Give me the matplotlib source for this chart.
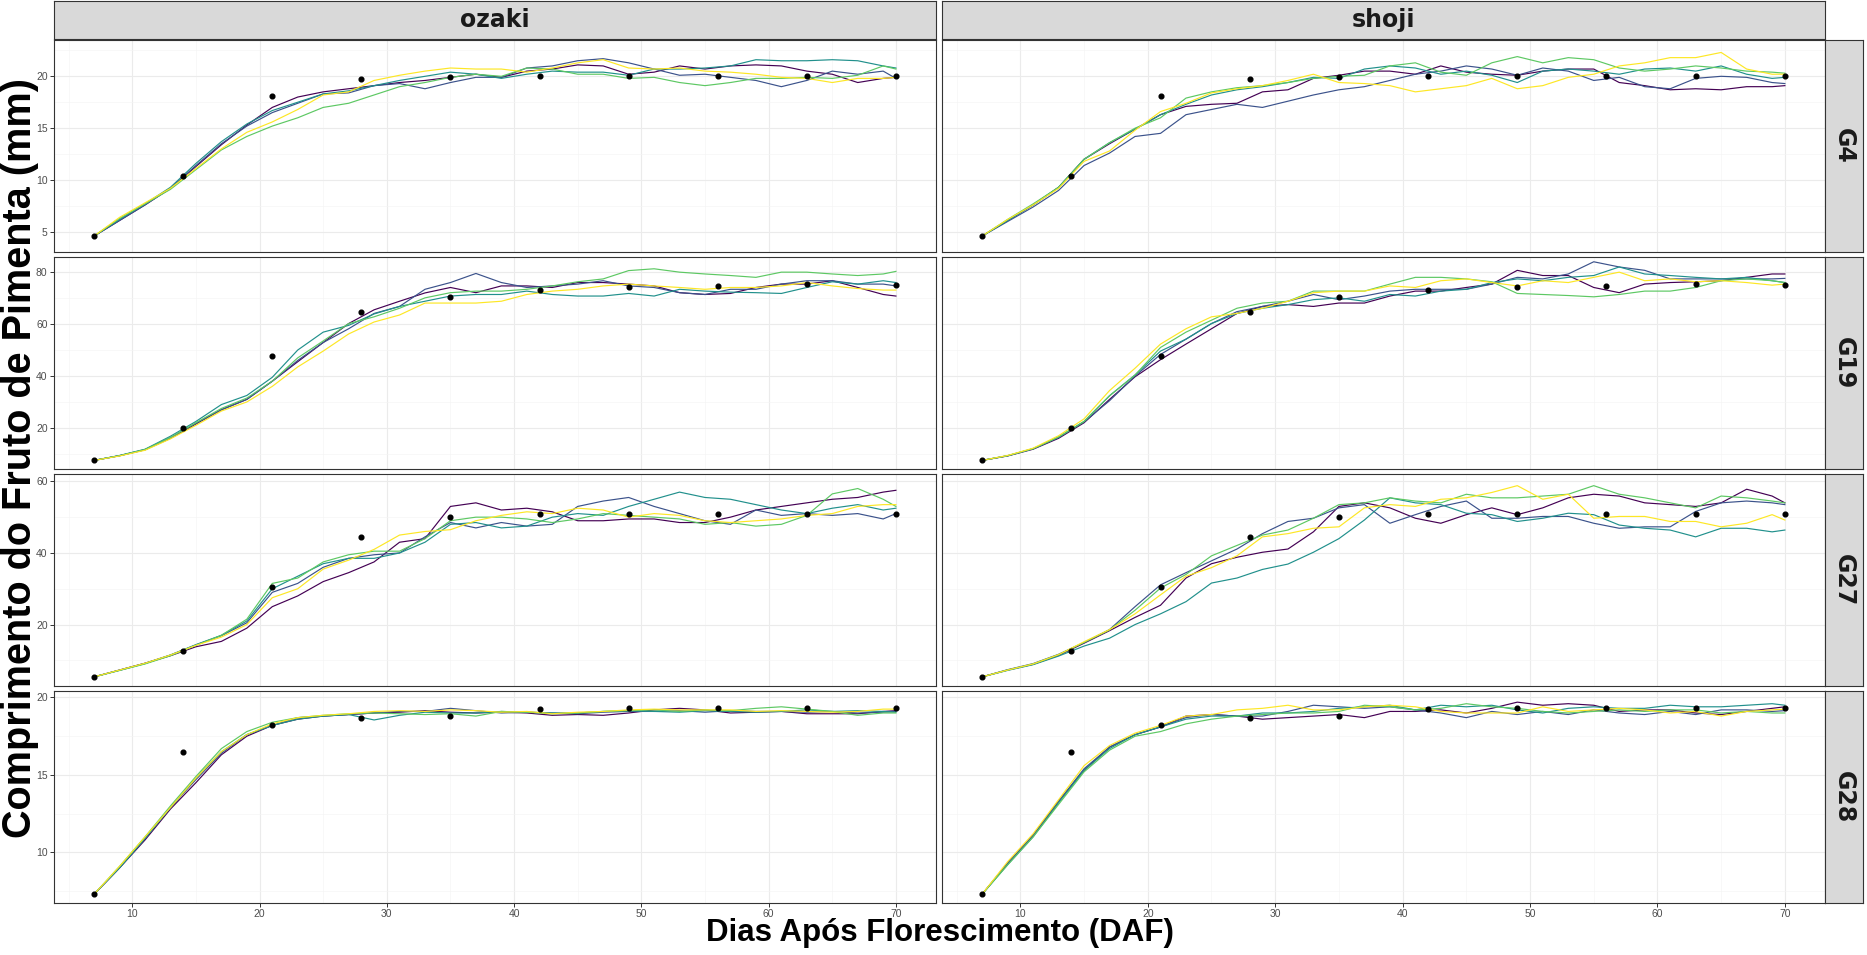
import numpy as np
import matplotlib as mpl
mpl.use('Agg')
import matplotlib.pyplot as plt

# days at which the simulated runs were read off the chart
days = [7, 9, 11, 13, 15, 17, 19, 21, 23, 25, 27, 29, 31, 33, 35, 37, 39, 41, 43, 45,
        47, 49, 51, 53, 55, 57, 59, 61, 63, 65, 67, 69, 70]
obs_days = [7, 14, 21, 28, 35, 42, 49, 56, 63, 70]

# observed means (same in both methods)
obs_g4 = [4.6, 10.4, 18.1, 19.7, 19.9, 20.0, 20.0, 20.0, 20.0, 20.0]
obs_g19 = [7.5, 20.0, 47.8, 64.6, 70.5, 73.0, 74.3, 74.6, 75.3, 75.2]
obs_g27 = [5.4, 12.5, 30.5, 44.5, 50.1, 51.0, 51.0, 51.0, 51.0, 51.0]
obs_g28 = [7.3, 16.5, 18.2, 18.65, 18.8, 19.25, 19.35, 19.35, 19.35, 19.35]

# five runs per panel (run 1..5)
g4_ozaki = [
    [4.6, 6.1, 7.6, 9.2, 11.3, 13.4, 15.3, 17.0, 18.0, 18.5, 18.8, 19.1, 19.4, 19.6, 19.9, 20.2, 19.9, 20.5, 20.7, 21.1, 21.0, 20.2, 20.4, 21.0, 20.7, 21.0, 21.1, 21.0, 20.5, 20.2, 19.4, 19.8, 19.9],
    [4.6, 6.1, 7.6, 9.2, 11.4, 13.5, 15.2, 16.5, 17.4, 18.3, 18.4, 19.1, 19.3, 18.8, 19.4, 19.9, 19.9, 20.8, 21.0, 21.5, 21.7, 21.3, 20.7, 20.1, 20.2, 19.9, 19.6, 19.0, 19.6, 20.5, 20.2, 20.5, 19.8],
    [4.6, 6.2, 7.7, 9.3, 11.6, 13.7, 15.4, 16.7, 17.5, 18.3, 18.6, 19.1, 19.6, 20.0, 20.4, 20.2, 19.8, 20.2, 20.5, 20.4, 20.4, 20.1, 20.7, 20.7, 20.8, 21.0, 21.6, 21.5, 21.5, 21.6, 21.5, 21.0, 20.8],
    [4.6, 6.3, 7.7, 9.1, 11.0, 12.9, 14.2, 15.2, 16.0, 17.0, 17.4, 18.2, 19.0, 19.4, 19.9, 20.2, 20.0, 20.8, 20.7, 20.2, 20.2, 19.8, 19.9, 19.4, 19.1, 19.4, 19.8, 19.8, 19.9, 19.8, 20.1, 21.0, 20.7],
    [4.6, 6.4, 7.8, 9.2, 11.1, 13.0, 14.6, 15.6, 16.8, 18.2, 18.5, 19.6, 20.1, 20.5, 20.8, 20.7, 20.7, 20.4, 20.8, 21.3, 21.6, 20.8, 20.7, 20.8, 20.5, 20.4, 20.2, 19.9, 19.8, 19.4, 19.8, 19.8, 19.9],
]
g4_shoji = [
    [4.6, 6.1, 7.6, 9.3, 12.0, 13.5, 14.9, 16.3, 17.1, 17.3, 17.4, 18.5, 18.7, 19.8, 20.1, 20.5, 20.5, 20.2, 21.0, 20.4, 20.2, 20.1, 20.5, 20.7, 20.7, 19.4, 19.1, 18.7, 18.8, 18.7, 19.0, 19.0, 19.1],
    [4.6, 6.0, 7.4, 9.0, 11.4, 12.6, 14.2, 14.5, 16.3, 16.8, 17.3, 17.0, 17.6, 18.2, 18.7, 19.0, 19.6, 20.2, 20.5, 21.0, 20.7, 20.1, 20.8, 20.5, 19.6, 19.9, 19.0, 18.8, 19.8, 20.0, 19.9, 19.4, 19.3],
    [4.6, 6.1, 7.6, 9.3, 12.0, 13.6, 14.9, 16.3, 17.3, 18.2, 18.7, 19.0, 19.4, 19.9, 19.8, 20.7, 21.0, 20.8, 20.2, 20.5, 20.1, 19.4, 20.5, 20.7, 20.5, 20.2, 20.7, 20.8, 20.5, 21.0, 20.2, 19.8, 19.9],
    [4.6, 6.2, 7.7, 9.3, 12.0, 13.6, 15.0, 16.0, 17.9, 18.5, 18.9, 19.1, 19.4, 19.8, 20.0, 20.1, 21.0, 21.3, 20.4, 20.1, 21.3, 21.9, 21.3, 21.8, 21.6, 20.8, 20.5, 20.7, 21.0, 20.8, 20.5, 20.4, 20.3],
    [4.6, 6.2, 7.6, 9.2, 11.8, 12.8, 14.8, 16.6, 17.4, 18.4, 18.8, 19.1, 19.6, 20.2, 19.4, 19.3, 19.1, 18.5, 18.8, 19.1, 19.8, 18.8, 19.1, 19.9, 20.2, 21.0, 21.3, 21.8, 21.8, 22.3, 20.7, 20.2, 20.2],
]
g19_ozaki = [
    [7.5, 9.3, 11.6, 16.0, 21.5, 27.0, 31.0, 38.0, 45.5, 52.9, 60.2, 65.5, 68.8, 72.0, 74.1, 72.1, 74.7, 74.7, 74.1, 76.0, 76.0, 75.4, 74.7, 72.1, 71.4, 71.8, 74.1, 75.4, 75.4, 76.7, 74.1, 71.4, 70.8],
    [7.5, 9.3, 11.6, 16.2, 21.8, 27.0, 31.0, 38.0, 46.0, 52.9, 58.2, 64.1, 66.8, 73.4, 76.0, 79.5, 76.0, 74.1, 74.7, 75.4, 76.7, 74.7, 74.1, 72.1, 71.4, 73.4, 73.4, 75.4, 76.7, 76.7, 75.4, 75.4, 74.7],
    [7.5, 9.4, 11.8, 16.8, 22.5, 29.0, 32.5, 39.5, 50.0, 56.9, 59.5, 63.9, 66.8, 68.8, 70.8, 71.4, 71.4, 72.7, 71.4, 70.8, 70.8, 71.8, 70.8, 73.4, 72.7, 72.3, 72.1, 71.8, 74.1, 76.3, 75.4, 76.7, 76.0],
    [7.5, 9.3, 11.7, 16.3, 22.0, 27.5, 31.5, 38.0, 47.0, 53.5, 60.2, 62.8, 66.1, 70.1, 72.1, 72.7, 72.7, 73.4, 74.7, 76.3, 77.4, 80.6, 81.3, 80.0, 79.3, 78.7, 78.0, 80.0, 80.0, 79.3, 78.7, 79.3, 80.3],
    [7.5, 9.2, 11.4, 15.8, 21.0, 26.5, 30.0, 36.0, 43.5, 49.6, 56.2, 60.8, 63.5, 68.1, 68.1, 68.1, 68.8, 71.4, 72.7, 73.4, 74.7, 75.4, 74.7, 74.1, 73.4, 74.1, 74.1, 74.7, 76.0, 74.7, 73.7, 73.1, 73.1],
]
g19_shoji = [
    [7.5, 9.2, 11.8, 16.0, 22.0, 31.0, 39.7, 46.3, 52.3, 58.2, 64.1, 66.8, 67.5, 66.8, 68.1, 68.1, 70.8, 72.7, 72.7, 74.1, 75.4, 80.7, 78.7, 78.7, 74.1, 72.1, 75.4, 76.0, 76.3, 76.7, 78.0, 79.3, 79.3],
    [7.5, 9.3, 12.0, 16.3, 22.3, 30.5, 40.0, 48.3, 54.2, 60.2, 64.8, 66.8, 68.8, 71.4, 69.4, 70.8, 72.7, 73.4, 73.4, 73.4, 75.4, 78.0, 77.4, 79.3, 84.0, 82.0, 80.7, 77.4, 77.4, 77.4, 77.4, 77.4, 77.6],
    [7.5, 9.3, 12.0, 16.5, 22.5, 32.4, 40.4, 49.6, 54.2, 60.2, 64.1, 66.1, 67.5, 69.4, 70.1, 68.8, 71.4, 70.8, 72.7, 73.4, 76.0, 77.4, 76.7, 78.0, 78.7, 82.0, 79.3, 78.7, 78.0, 77.4, 78.0, 76.7, 76.0],
    [7.5, 9.3, 12.0, 16.5, 22.5, 32.4, 40.4, 51.0, 56.9, 61.5, 66.1, 68.1, 68.8, 72.7, 72.7, 72.7, 75.4, 78.0, 78.0, 77.4, 76.3, 71.8, 71.4, 71.0, 70.5, 71.4, 72.7, 72.7, 74.1, 76.7, 77.4, 76.7, 76.0],
    [7.5, 9.4, 12.2, 17.0, 23.5, 34.4, 43.0, 52.3, 58.2, 62.8, 64.1, 66.1, 68.8, 72.1, 72.7, 72.7, 74.7, 74.1, 76.7, 77.4, 76.0, 74.7, 76.7, 76.0, 78.0, 80.0, 76.7, 77.4, 76.3, 76.7, 76.0, 75.0, 75.4],
]
g27_ozaki = [
    [5.4, 7.3, 9.2, 11.3, 13.8, 15.3, 19.0, 25.0, 28.0, 32.0, 34.5, 37.5, 43.0, 44.0, 53.0, 54.0, 52.0, 52.5, 51.5, 49.0, 49.0, 49.5, 49.5, 48.5, 48.5, 50.0, 52.0, 53.0, 54.0, 55.0, 55.5, 57.0, 57.5],
    [5.4, 7.3, 9.2, 11.5, 14.3, 16.9, 20.5, 29.0, 31.5, 36.0, 38.5, 39.5, 40.0, 44.5, 48.5, 47.0, 48.5, 47.5, 48.0, 53.0, 54.5, 55.5, 53.0, 51.0, 49.0, 48.0, 52.0, 50.5, 51.0, 50.5, 51.0, 49.5, 51.0],
    [5.4, 7.2, 9.1, 11.5, 14.4, 17.0, 21.0, 30.0, 33.5, 37.0, 38.5, 38.5, 40.0, 43.0, 48.0, 48.5, 47.0, 47.5, 50.0, 51.0, 50.5, 53.0, 55.0, 57.0, 55.5, 55.0, 53.5, 52.0, 51.0, 52.5, 53.5, 52.0, 52.5],
    [5.4, 7.2, 9.0, 11.3, 14.2, 17.0, 21.5, 31.5, 33.0, 37.5, 39.5, 40.5, 40.5, 44.0, 49.0, 50.0, 50.0, 49.5, 48.5, 49.5, 51.0, 50.5, 50.0, 49.5, 48.0, 48.5, 47.5, 48.0, 50.5, 56.5, 58.0, 55.0, 53.0],
    [5.4, 7.3, 9.2, 11.5, 14.2, 16.5, 20.0, 27.5, 30.0, 35.5, 38.0, 41.0, 45.0, 46.0, 46.5, 49.0, 50.5, 51.5, 51.0, 52.5, 52.0, 50.0, 51.0, 50.5, 49.0, 48.5, 49.0, 49.5, 50.5, 51.0, 53.0, 53.5, 53.5],
]
g27_shoji = [
    [5.4, 7.3, 8.9, 11.4, 14.8, 18.3, 22.0, 25.4, 33.0, 37.0, 38.8, 40.2, 41.1, 45.9, 53.0, 54.0, 52.6, 49.7, 48.3, 50.7, 52.6, 50.7, 52.6, 55.4, 56.4, 55.9, 54.0, 53.5, 53.0, 54.0, 57.8, 55.9, 54.0],
    [5.4, 7.4, 9.1, 11.7, 15.0, 18.6, 25.0, 31.1, 34.5, 37.8, 41.1, 45.4, 48.8, 49.7, 52.6, 53.5, 48.3, 50.7, 53.0, 54.5, 49.7, 49.7, 50.2, 50.2, 48.3, 46.9, 47.3, 47.3, 51.6, 54.0, 54.5, 54.0, 53.5],
    [5.4, 7.2, 8.8, 11.2, 14.0, 16.2, 20.0, 23.0, 26.4, 31.6, 33.0, 35.4, 36.9, 40.2, 44.0, 49.2, 55.4, 54.0, 53.5, 51.1, 50.7, 48.8, 49.7, 51.1, 50.7, 47.8, 46.9, 46.4, 44.5, 46.9, 46.9, 45.9, 46.4],
    [5.4, 7.3, 9.0, 11.6, 15.0, 18.5, 24.0, 30.2, 34.0, 39.2, 42.1, 45.0, 46.4, 49.7, 53.5, 54.0, 55.4, 54.5, 54.0, 56.4, 55.4, 55.4, 55.9, 56.4, 58.8, 56.4, 55.4, 54.0, 52.6, 55.9, 55.4, 54.5, 54.0],
    [5.4, 7.3, 9.0, 11.6, 15.2, 18.6, 23.0, 28.3, 33.5, 35.9, 39.2, 44.5, 45.4, 46.9, 47.3, 52.6, 53.5, 53.0, 55.0, 55.4, 56.9, 58.8, 55.0, 56.4, 49.7, 50.2, 50.2, 48.8, 48.8, 47.3, 48.3, 50.7, 49.2],
]
g28_ozaki = [
    [7.3, 9.0, 10.8, 12.8, 14.5, 16.3, 17.5, 18.2, 18.6, 18.8, 18.9, 19.0, 19.05, 19.15, 19.05, 19.0, 19.05, 19.0, 18.85, 18.9, 18.85, 19.0, 19.2, 19.3, 19.2, 19.0, 19.05, 19.1, 18.95, 18.95, 18.95, 19.1, 19.15],
    [7.3, 9.0, 10.9, 12.9, 14.7, 16.4, 17.6, 18.2, 18.7, 18.8, 18.9, 19.0, 19.1, 19.1, 19.3, 19.15, 19.0, 19.05, 19.0, 18.95, 19.05, 19.1, 19.1, 19.15, 19.05, 19.15, 19.1, 19.1, 19.05, 19.1, 19.0, 19.05, 19.1],
    [7.3, 9.0, 10.9, 12.9, 14.8, 16.5, 17.6, 18.2, 18.6, 18.8, 18.9, 18.55, 18.85, 19.05, 19.0, 19.0, 19.1, 19.05, 19.0, 19.0, 19.1, 19.15, 19.1, 19.05, 19.15, 19.1, 19.05, 19.1, 19.2, 19.1, 19.15, 19.1, 19.05],
    [7.3, 9.1, 11.0, 13.0, 14.9, 16.7, 17.8, 18.4, 18.7, 18.85, 18.95, 19.0, 18.95, 18.9, 18.95, 18.8, 19.1, 19.05, 18.95, 19.0, 19.1, 19.15, 19.2, 19.1, 19.2, 19.15, 19.3, 19.4, 19.25, 19.1, 18.85, 19.0, 19.0],
    [7.3, 9.1, 11.0, 12.9, 14.8, 16.5, 17.6, 18.3, 18.7, 18.85, 18.95, 19.1, 19.15, 19.1, 19.2, 19.15, 19.05, 19.1, 18.95, 19.05, 19.1, 19.2, 19.25, 19.2, 19.2, 19.2, 19.1, 19.15, 19.1, 19.05, 19.1, 19.25, 19.25],
]
g28_shoji = [
    [7.3, 9.3, 11.1, 13.3, 15.3, 16.8, 17.6, 18.1, 18.8, 18.9, 18.8, 18.6, 18.7, 18.8, 18.9, 18.7, 19.1, 19.1, 19.2, 19.0, 19.3, 19.7, 19.5, 19.6, 19.5, 19.1, 19.2, 19.2, 19.0, 18.9, 19.1, 19.3, 19.4],
    [7.3, 9.3, 11.1, 13.3, 15.4, 16.8, 17.6, 18.1, 18.7, 18.9, 18.8, 18.8, 19.1, 19.5, 19.4, 19.3, 19.4, 19.2, 19.0, 18.7, 19.1, 18.9, 19.1, 18.9, 19.2, 19.0, 18.9, 19.1, 18.9, 19.2, 19.2, 19.1, 19.15],
    [7.3, 9.2, 11.0, 13.2, 15.3, 16.7, 17.6, 18.1, 18.6, 18.8, 18.8, 19.0, 19.0, 19.1, 19.3, 19.4, 19.5, 19.2, 19.5, 19.4, 19.5, 19.2, 19.0, 19.3, 19.4, 19.3, 19.3, 19.5, 19.4, 19.4, 19.5, 19.6, 19.5],
    [7.3, 9.2, 11.0, 13.1, 15.2, 16.6, 17.5, 17.8, 18.3, 18.6, 18.8, 18.9, 19.0, 19.0, 19.1, 19.5, 19.4, 19.2, 19.3, 19.6, 19.4, 19.3, 19.1, 19.0, 19.1, 19.2, 19.1, 19.2, 19.2, 19.0, 19.1, 19.0, 19.0],
    [7.3, 9.4, 11.2, 13.4, 15.6, 16.9, 17.7, 18.2, 18.8, 18.9, 19.2, 19.3, 19.5, 19.2, 19.2, 19.4, 19.5, 19.4, 19.1, 19.0, 19.0, 19.0, 19.4, 19.1, 19.2, 19.3, 19.2, 19.0, 19.1, 18.8, 19.1, 19.2, 19.25],
]

methods = ['ozaki', 'shoji']
genotypes = ['G4', 'G19', 'G27', 'G28']
runs = {('G4', 'ozaki'): g4_ozaki, ('G4', 'shoji'): g4_shoji,
        ('G19', 'ozaki'): g19_ozaki, ('G19', 'shoji'): g19_shoji,
        ('G27', 'ozaki'): g27_ozaki, ('G27', 'shoji'): g27_shoji,
        ('G28', 'ozaki'): g28_ozaki, ('G28', 'shoji'): g28_shoji}
observed = {'G4': obs_g4, 'G19': obs_g19, 'G27': obs_g27, 'G28': obs_g28}

run_colors = ['#440154', '#3B528B', '#21908C', '#5DC863', '#FDE725']
ylims = {'G4': (3.1, 23.5), 'G19': (4.3, 85.8), 'G27': (2.9, 62.0), 'G28': (6.74, 20.4)}
yticks = {'G4': [5, 10, 15, 20], 'G19': [20, 40, 60, 80], 'G27': [20, 40, 60], 'G28': [10, 15, 20]}

W, H = 1867, 955
fig = plt.figure(figsize=(W / 100, H / 100), dpi=100, facecolor='white')


def box(x0, y0, x1, y1):
    # pixel box (top-left origin) -> figure fraction rect
    return [x0 / W, 1 - y1 / H, (x1 - x0) / W, (y1 - y0) / H]


col_x = [(54, 936), (942, 1825)]
top0, panel_h, gap = 40, 211.6, 5.5
edge = '#333333'
tick_font = {'family': 'Liberation Sans', 'size': 7.5, 'color': '#4D4D4D'}

for r, g in enumerate(genotypes):
    y0 = top0 + r * (panel_h + gap)
    y1 = y0 + panel_h
    lo, hi = ylims[g]
    major = yticks[g]
    step = major[1] - major[0]
    minor = np.arange(major[0] - step / 2, hi, step)
    for c, m in enumerate(methods):
        x0, x1 = col_x[c]
        ax = fig.add_axes(box(x0, y0, x1, y1))
        ax.set_xlim(3.85, 73.15)
        ax.set_ylim(lo, hi)
        ax.set_xticks(range(10, 71, 10))
        ax.set_xticks(range(5, 71, 10), minor=True)
        ax.set_yticks(major)
        ax.set_yticks([v for v in minor if lo < v < hi], minor=True)
        ax.grid(which='major', color='#EBEBEB', linewidth=0.8)
        ax.grid(which='minor', color='#F4F4F4', linewidth=0.45)
        ax.set_axisbelow(True)
        for s in ax.spines.values():
            s.set_color(edge)
            s.set_linewidth(0.8)
        ax.tick_params(which='minor', length=0)
        ax.tick_params(which='major', length=2.6, width=0.7, color=edge, pad=2)
        if c == 0:
            ax.set_yticklabels([str(v) for v in major], fontdict=tick_font)
        else:
            ax.tick_params(axis='y', which='major', length=0, labelleft=False)
        if r == len(genotypes) - 1:
            ax.set_xticklabels([str(v) for v in range(10, 71, 10)], fontdict=tick_font)
        else:
            ax.tick_params(axis='x', which='major', length=0, labelbottom=False)

        for k, run in enumerate(runs[(g, m)]):
            ax.plot(days, run, color=run_colors[k], linewidth=0.85, zorder=2)
        ax.plot(obs_days, observed[g], 'o', color='black', markersize=3.4, zorder=3)

        # top strips
        if r == 0:
            sx = fig.add_axes(box(x0, 1, x1, 39))
            sx.set_facecolor('#D9D9D9')
            sx.set_xticks([])
            sx.set_yticks([])
            for s in sx.spines.values():
                s.set_color(edge)
                s.set_linewidth(0.8)
            sx.text(0.5, 0.5, m, ha='center', va='center', fontsize=17,
                    fontweight='bold', family='DejaVu Sans', color='#1A1A1A',
                    transform=sx.transAxes)

    # right strip
    sy = fig.add_axes(box(1825, y0, 1863, y1))
    sy.set_facecolor('#D9D9D9')
    sy.set_xticks([])
    sy.set_yticks([])
    for s in sy.spines.values():
        s.set_color(edge)
        s.set_linewidth(0.8)
    sy.text(0.5, 0.5, g, ha='center', va='center', rotation=270, fontsize=17,
            fontweight='bold', family='DejaVu Sans', color='#1A1A1A',
            transform=sy.transAxes)

fig.text(940 / W, 1 - 933 / H, 'Dias Após Florescimento (DAF)', ha='center', va='center',
         fontsize=22.5, fontweight='bold', family='Liberation Sans')
fig.text(20 / W, 1 - 458 / H, 'Comprimento do Fruto de Pimenta (mm)', ha='center', va='center',
         rotation=90, fontsize=28.5, fontweight='bold', family='Liberation Sans')

fig.savefig('out.png', dpi=100, facecolor='white')
